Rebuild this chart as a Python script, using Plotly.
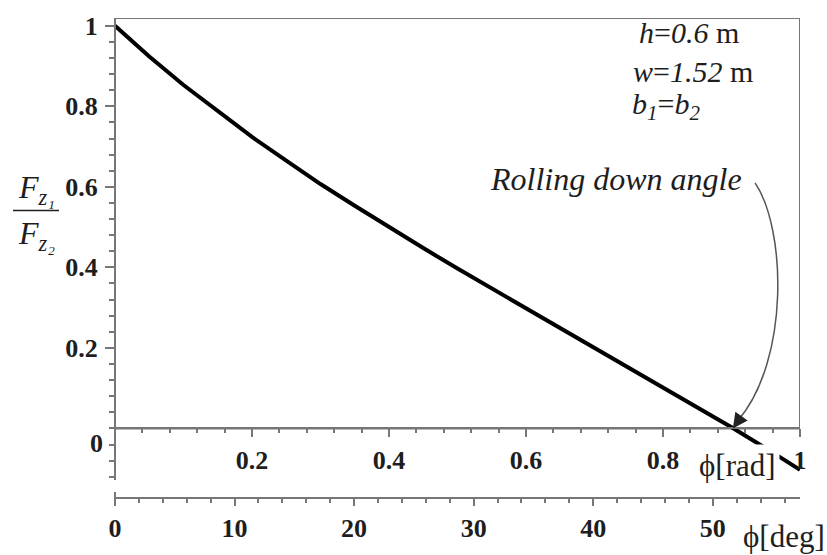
import plotly.graph_objects as go

# ---- data ----
phi_rad = [0.0, 0.05, 0.10, 0.15, 0.20, 0.25, 0.30, 0.35, 0.40, 0.45, 0.50,
           0.55, 0.60, 0.65, 0.70, 0.75, 0.80, 0.85, 0.90, 0.95, 1.00]
ratio = [1.000, 0.924, 0.853, 0.787, 0.724, 0.665, 0.607, 0.553, 0.500, 0.448, 0.397,
         0.348, 0.299, 0.250, 0.201, 0.152, 0.103, 0.053, 0.003, -0.049, -0.103]
rad_ticks = [0.2, 0.4, 0.6, 0.8, 1.0]
rad_labels = ["0.2", "0.4", "0.6", "0.8", "1"]
deg_ticks = [0, 10, 20, 30, 40, 50]
deg_labels = ["0", "10", "20", "30", "40", "50"]
y_ticks = [0.2, 0.4, 0.6, 0.8, 1.0]
y_labels = ["0.2", "0.4", "0.6", "0.8", "1"]
param_lines = ["<i>h</i>=<i>0.6</i> m", "<i>w</i>=<i>1.52</i> m", "<i>b</i><sub><i>1</i></sub>=<i>b</i><sub><i>2</i></sub>"]
rolling_angle = 0.902
RAD2DEG = 57.29578

# ---- layout geometry ----
W, H = 827, 555
ML, MR, MT, MB = 115, 27, 14, 52
PW, PH = W - ML - MR, H - MT - MB


def fx(px):
    return (px - ML) / PW


def fy(py):
    return (H - MB - py) / PH


ylo, yhi = -0.129, 1.0195
dom0 = fy(485)
pos0 = dom0 + (0 - ylo) / (yhi - ylo) * (1 - dom0)

AX = "#777777"
TXT = "#1e1e1e"
serif = "Liberation Serif"
tickfont = dict(family=serif, size=26, color=TXT, weight="bold")

fig = go.Figure()
fig.add_trace(go.Scatter(x=phi_rad, y=ratio, mode="lines",
                         line=dict(color="black", width=4),
                         showlegend=False, hoverinfo="skip"))
fig.add_trace(go.Scatter(x=[p * RAD2DEG for p in phi_rad], y=ratio, mode="lines",
                         xaxis="x2", yaxis="y", opacity=0,
                         line=dict(color="black", width=1),
                         showlegend=False, hoverinfo="skip"))

fig.update_layout(
    width=W, height=H,
    margin=dict(l=ML, r=MR, t=MT, b=MB),
    paper_bgcolor="white", plot_bgcolor="white",
    xaxis=dict(range=[0, 1], domain=[0, 1], anchor="free", position=pos0, side="bottom",
               showline=True, linecolor=AX, linewidth=2,
               ticks="outside", ticklen=8, tickwidth=1.5, tickcolor=AX,
               tickmode="array", tickvals=rad_ticks, ticktext=rad_labels,
               tickfont=tickfont, ticklabelstandoff=0,
               minor=dict(ticks="outside", ticklen=4, tickwidth=1.5, tickcolor=AX,
                          tickmode="linear", tick0=0, dtick=0.04),
               showgrid=False, zeroline=False),
    xaxis2=dict(range=[0, RAD2DEG], domain=[0, 1], anchor="free", position=0,
                overlaying="x", side="bottom",
                showline=True, linecolor=AX, linewidth=2,
                ticks="outside", ticklen=7, tickwidth=1.5, tickcolor=AX,
                tickmode="array", tickvals=deg_ticks, ticktext=deg_labels,
                tickfont=tickfont, ticklabelstandoff=0,
                minor=dict(ticks="outside", ticklen=4, tickwidth=1.5, tickcolor=AX,
                           tickmode="linear", tick0=0, dtick=2),
                showgrid=False, zeroline=False),
    yaxis=dict(range=[ylo, yhi], domain=[dom0, 1], anchor="free", position=0,
               showline=True, linecolor=AX, linewidth=2,
               ticks="outside", ticklen=9, tickwidth=1.5, tickcolor=AX,
               tickmode="array", tickvals=y_ticks, ticktext=y_labels,
               tickfont=tickfont, ticklabelstandoff=2,
               minor=dict(ticks="outside", ticklen=5, tickwidth=1.5, tickcolor=AX,
                          tickmode="linear", tick0=0, dtick=0.04),
               showgrid=False, zeroline=False),
)

# frame (top and right borders)
fig.add_shape(type="rect", xref="x", yref="y", x0=0, x1=1, y0=0, y1=yhi,
              line=dict(color=AX, width=2), layer="below")
# left end mark of the degree axis
fig.add_shape(type="line", xref="paper", yref="paper", x0=0, x1=0, y0=fy(497), y1=fy(509),
              line=dict(color=AX, width=2))

# curved arrow to the rolling-down angle
path = "M {} {} C {} {}, {} {}, {} {}".format(fx(755), fy(182), fx(786), fy(228),
                                              fx(790), fy(362), fx(738), fy(424))
fig.add_shape(type="path", xref="paper", yref="paper", path=path,
              line=dict(color="#555555", width=1.5))
fig.add_annotation(x=rolling_angle, y=0, xref="x", yref="y", text="",
                   showarrow=True, ax=7, ay=-10, arrowhead=2, arrowsize=2,
                   arrowwidth=1.5, arrowcolor="#222222", standoff=0)


def label(px, py, text, size, anchor="center", bold=False, **kw):
    f = dict(family=serif, size=size, color=TXT)
    if bold:
        f["weight"] = "bold"
    fig.add_annotation(x=fx(px), y=fy(py), xref="paper", yref="paper",
                       xanchor=anchor, yanchor="middle", text=text,
                       showarrow=False, font=f, **kw)


label(616, 178, "<i>Rolling down angle</i>", 32)
for t, px0, py0 in zip(param_lines, [637, 631, 630], [29, 68, 104]):
    label(px0, py0, t, 30, anchor="left")

label(737, 470, "\u03d5[rad]", 31, bgcolor="white", borderpad=3)
label(784, 542, "\u03d5[deg]", 31)
label(96, 447, "0", 26, bold=True)

# y-axis title as a fraction
label(36, 189, "<i>F</i><sub><i>z\u2081</i></sub>", 32)
label(36, 236, "<i>F</i><sub><i>z\u2082</i></sub>", 32)
fig.add_shape(type="line", xref="paper", yref="paper", x0=fx(13), x1=fx(59),
              y0=fy(210), y1=fy(210), line=dict(color=TXT, width=1.5))

fig.write_html("out.html", config={"displayModeBar": False},
               post_script="document.body.style.margin='0px';")
